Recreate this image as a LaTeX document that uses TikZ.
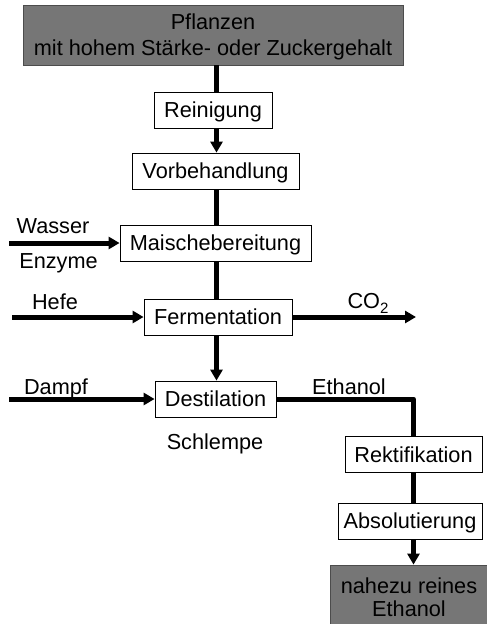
\documentclass[tikz,border=0pt]{standalone}
\usepackage{fontspec}
\setmainfont{Liberation Sans}
\usetikzlibrary{arrows.meta}
\definecolor{boxgray}{RGB}{118,118,118}
\begin{document}
\begin{tikzpicture}[x=1pt,y=-1pt,
  every node/.style={font=\fontsize{21.7}{26}\selectfont, inner sep=0pt},
  stepbox/.style={draw=black, line width=0.8pt, fill=white,
    minimum height=36pt, text height=15.5pt, text depth=0pt},
  endbox/.style={draw=black!70, line width=0.8pt, fill=boxgray, align=center,
    text depth=0pt},
  lbl/.style={anchor=base},
  pipe/.style={line width=5pt},
  flow/.style={line width=5pt, -{Triangle[width=12pt,length=11pt]}}]
\useasboundingbox (0,0) rectangle (487,624);

% process chain
\node[endbox, minimum width=380pt, minimum height=60pt, text height=41.5pt] (top) at (213,35)
  {Pflanzen\\mit hohem Stärke- oder Zuckergehalt};
\node[stepbox, minimum width=118pt] (rein) at (213,110) {Reinigung};
\node[stepbox, minimum width=167pt] (vorb) at (215.5,171) {Vorbehandlung};
\node[stepbox, minimum width=191pt] (maische) at (215.5,243) {Maischebereitung};
\node[stepbox, minimum width=148pt] (ferm) at (218,317) {Fermentation};
\node[stepbox, minimum width=121pt] (dest) at (215.5,399) {Destilation};
\node[stepbox, minimum width=137pt] (rekt) at (413.5,454.5) {Rektifikation};
\node[stepbox, minimum width=144pt] (abs) at (410,521) {Absolutierung};
\node[endbox, minimum width=158pt, minimum height=65pt, text height=38.5pt,
  font=\fontsize{21.7}{23}\selectfont] (prod) at (409,597.5) {nahezu reines\\Ethanol};

% spines and free ends
\coordinate (spine) at (216.5,0);
\coordinate (spineR) at (413.5,0);
\coordinate (wasserIn) at (9,243);
\coordinate (hefeIn) at (12,317);
\coordinate (co2Out) at (416,317);
\coordinate (dampfIn) at (9,399);
\coordinate (ethCorner) at (413.5,399);

% connectors
\draw[pipe] (top.south -| spine) -- (rein.north -| spine);
\draw[flow] (rein.south -| spine) -- (vorb.north -| spine);
\draw[pipe] (vorb.south -| spine) -- (maische.north -| spine);
\draw[pipe] (maische.south -| spine) -- (ferm.north -| spine);
\draw[flow] (ferm.south -| spine) -- (dest.north -| spine);
\draw[flow] (wasserIn) -- (maische.west);
\draw[flow] (hefeIn) -- (ferm.west);
\draw[flow] (ferm.east) -- (co2Out);
\draw[flow] (dampfIn) -- (dest.west);
\draw[pipe, line join=round] (dest.east) -- (ethCorner) -- (rekt.north -| spineR);
\draw[pipe] (rekt.south -| spineR) -- (abs.north -| spineR);
\draw[flow] (abs.south -| spineR) -- (prod.north -| spineR);

% stream labels
\node[lbl] (wasser) at (53,233) {Wasser};
\node[lbl] (enzyme) at (58.5,268) {Enzyme};
\node[lbl] (hefe) at (55,309) {Hefe};
\node[lbl] (co2) at (368,308) {CO\raisebox{-5pt}{\fontsize{15}{15}\selectfont 2}};
\node[lbl] (dampf) at (56,394) {Dampf};
\node[lbl] (ethanol) at (349,394) {Ethanol};
\node[lbl] (schlempe) at (215,449) {Schlempe};
\end{tikzpicture}
\end{document}
